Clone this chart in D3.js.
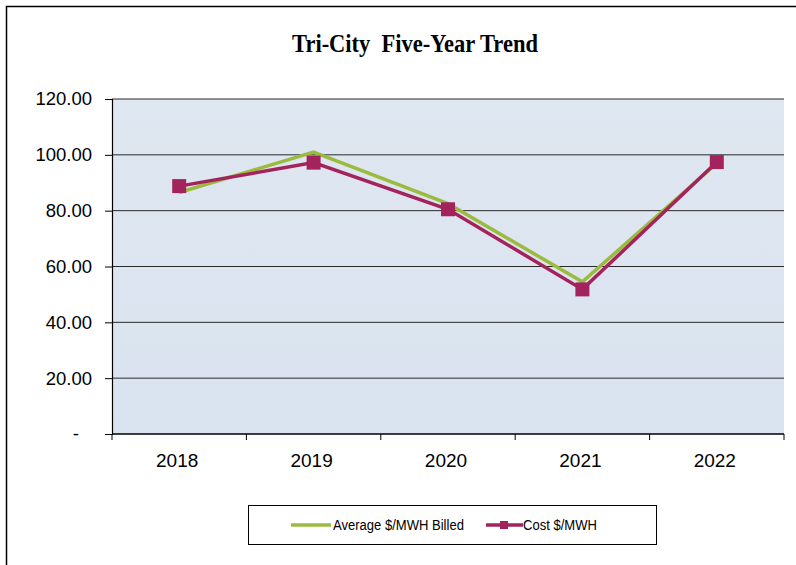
<!DOCTYPE html>
<html><head><meta charset="utf-8">
<script src="https://cdn.jsdelivr.net/npm/d3@7"></script>
<style>body{margin:0;background:#fff}svg{display:block}</style>
</head><body>
<svg id="c" width="796" height="565"></svg>
<script>
const years = ["2018","2019","2020","2021","2022"];
const avgBilled = [86.5, 101.0, 82.5, 54.5, 97.0];
const costMWH = [88.8, 97.2, 80.5, 51.8, 97.4];
const yTicks = [0, 20, 40, 60, 80, 100, 120];
const seriesNames = ["Average $/MWH Billed", "Cost $/MWH"];

const svg = d3.select("#c");
const L = 112, R = 784, T = 99, B = 434;

// outer border
svg.append("rect").attr("x",6.5).attr("y",6.5).attr("width",800).attr("height",600)
  .attr("fill","#fff").attr("stroke","#000").attr("stroke-width",1.5);

const defs = svg.append("defs");
const g = defs.append("linearGradient").attr("id","bg").attr("x1",0).attr("x2",0).attr("y1",0).attr("y2",1);
g.append("stop").attr("offset","0").attr("stop-color","#dfe7f1");
g.append("stop").attr("offset","1").attr("stop-color","#d9e3ef");

const x = d3.scaleBand().domain(years).range([L, R]).padding(0);
const y = d3.scaleLinear().domain([0,120]).range([B, T]);

svg.append("rect").attr("x",L).attr("y",T).attr("width",R-L).attr("height",B-T).attr("fill","url(#bg)");

// gridlines
svg.append("g").selectAll("line").data(yTicks.filter(d=>d>0)).join("line")
  .attr("x1",L).attr("x2",R).attr("y1",d=>y(d)).attr("y2",d=>y(d))
  .attr("stroke","#2a2a2a").attr("stroke-width",1);

// y axis
const ya = svg.append("g").attr("transform",`translate(${L},0)`)
  .call(d3.axisLeft(y).tickValues(yTicks).tickSize(7).tickPadding(13)
    .tickFormat(d=> d===0 ? "-" : d3.format(".2f")(d)));
ya.select(".domain").attr("stroke","#000").attr("stroke-width",1.2);
ya.selectAll(".tick line").attr("stroke","#000");
ya.selectAll("text").attr("font-family","Liberation Sans, Arial, sans-serif").attr("font-size",18.5).attr("fill","#000");
ya.selectAll(".tick").filter(d=>d===0).select("text").attr("dx",-13);

// x axis
const xa = svg.append("g").attr("transform",`translate(0,${B})`);
xa.append("line").attr("x1",L).attr("x2",R).attr("stroke","#000").attr("stroke-width",1.5);
xa.selectAll("line.tk").data(years.concat(["end"])).join("line").attr("class","tk")
  .attr("x1",(d,i)=> L + i*x.bandwidth()).attr("x2",(d,i)=> L + i*x.bandwidth())
  .attr("y1",0).attr("y2",6).attr("stroke","#000");
xa.selectAll("text").data(years).join("text")
  .attr("x",d=>x(d)+x.bandwidth()/2-2).attr("y",33).attr("text-anchor","middle")
  .attr("font-family","Liberation Sans, Arial, sans-serif").attr("font-size",19).attr("fill","#000")
  .text(d=>d);

const line = d3.line().x((d,i)=>x(years[i])+x.bandwidth()/2).y(d=>y(d));
const green = "#9bbb3f", red = "#a3245c";

svg.append("path").datum(avgBilled).attr("d",line).attr("fill","none").attr("stroke",green).attr("stroke-width",3.5);
svg.append("path").datum(costMWH).attr("d",line).attr("fill","none").attr("stroke",red).attr("stroke-width",3.5);
svg.append("g").selectAll("rect").data(costMWH).join("rect")
  .attr("x",(d,i)=>x(years[i])+x.bandwidth()/2-7).attr("y",d=>y(d)-7)
  .attr("width",14).attr("height",14).attr("fill",red);

// title
svg.append("text").attr("x",415).attr("y",52).attr("text-anchor","middle")
  .style("white-space","pre")
  .attr("font-family","Liberation Serif, Times New Roman, serif").attr("font-weight","bold")
  .attr("font-size",25).attr("fill","#000").attr("transform","translate(415,0) scale(0.9,1) translate(-415,0)")
  .text("Tri-City  Five-Year Trend");

// legend
svg.append("rect").attr("x",248.5).attr("y",505.5).attr("width",408).attr("height",39)
  .attr("fill","#fff").attr("stroke","#000").attr("stroke-width",1);
const lg = svg.append("g").attr("font-family","Liberation Sans, Arial, sans-serif").attr("font-size",14.5).attr("fill","#000");
lg.append("line").attr("x1",291).attr("x2",331).attr("y1",525).attr("y2",525).attr("stroke",green).attr("stroke-width",3.5);
lg.append("text").attr("x",333).attr("y",530).text(seriesNames[0]).attr("transform","translate(333,0) scale(0.9,1) translate(-333,0)");
lg.append("line").attr("x1",486).attr("x2",523).attr("y1",525).attr("y2",525).attr("stroke",red).attr("stroke-width",3.5);
lg.append("rect").attr("x",500).attr("y",521).attr("width",8).attr("height",8).attr("fill",red);
lg.append("text").attr("x",523).attr("y",530).text(seriesNames[1]).attr("transform","translate(523,0) scale(0.9,1) translate(-523,0)");
</script>
</body></html>
